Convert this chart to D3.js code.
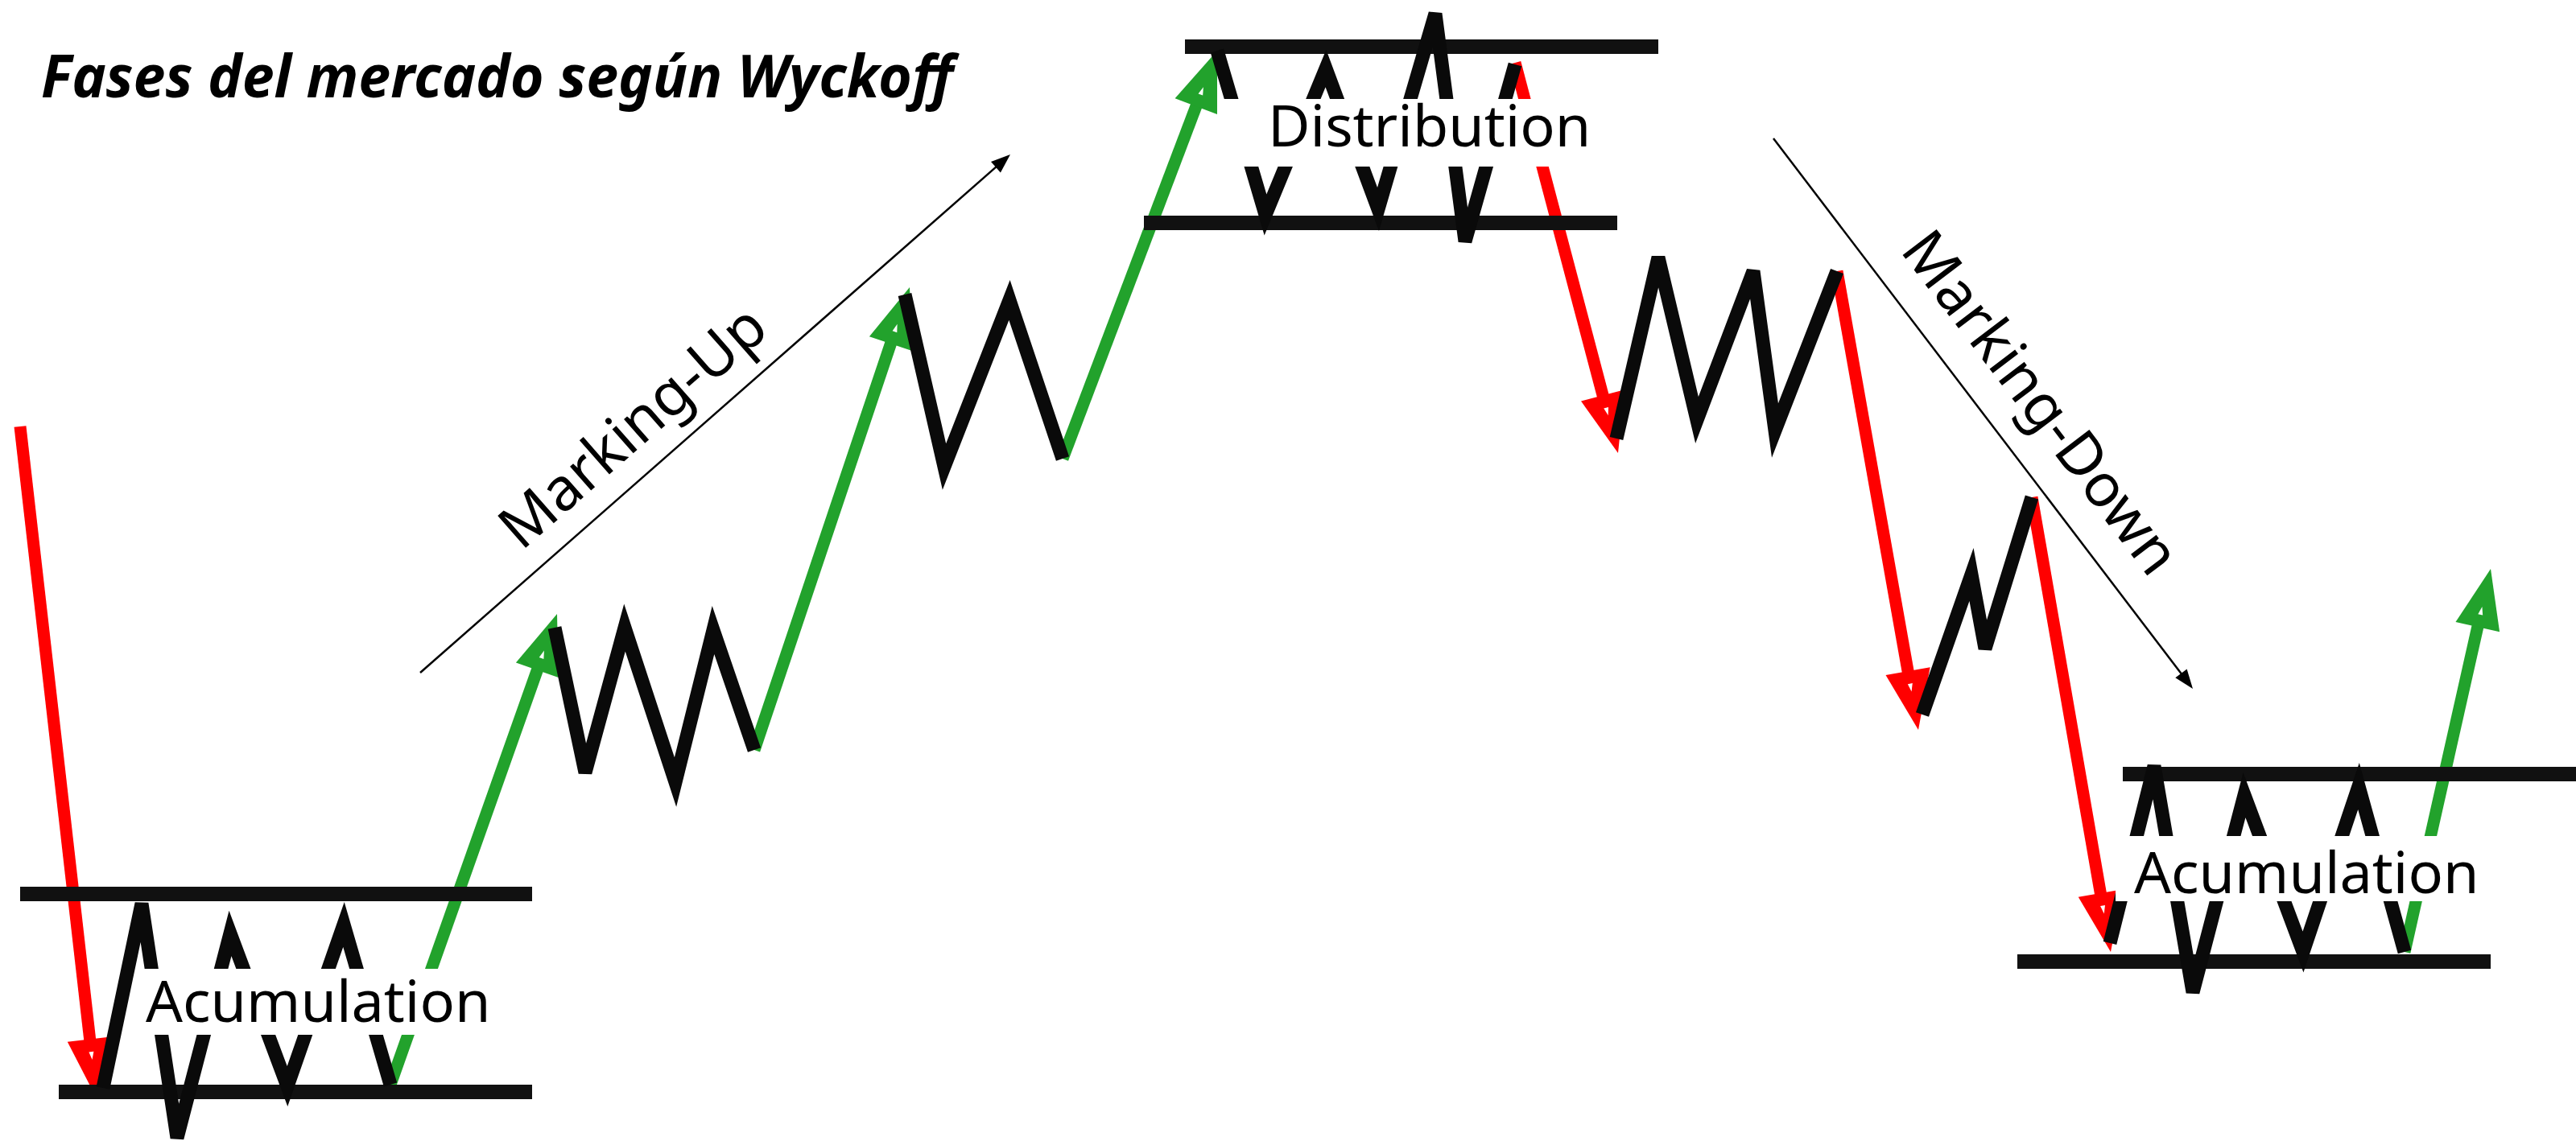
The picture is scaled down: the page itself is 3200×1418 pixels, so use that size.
<!DOCTYPE html>
<html>
<head>
<meta charset="utf-8">
<script src="https://cdn.jsdelivr.net/npm/d3@7"></script>
<style>
  body { margin: 0; background: #fff; }
  svg { display: block; }
</style>
</head>
<body>
<div id="vis"></div>
<script>
var W = 3200, H = 1418;

// x = time, y = price (same units as the sketch grid)
var redLegs = [
  [[25, 888], [120, 53]],
  [[1882, 1340], [2010, 855]],
  [[2282, 1081], [2383, 511]],
  [[2524, 800], [2622, 235]]
];
var greenLegs = [
  [[485, 70], [692, 655]],
  [[937, 486], [1130, 1061]],
  [[1320, 848], [1512, 1355]],
  [[2987, 235], [3094, 711]]
];
var ranges = [
  [[128, 66], [176, 295], [220, 4], [286, 258], [357, 68], [427, 269], [485, 70]],
  [[689, 638], [727, 458], [776, 638], [839, 446], [886, 635], [937, 486]],
  [[1124, 1052], [1173, 838], [1254, 1045], [1320, 848]],
  [[1512, 1355], [1572, 1151], [1647, 1333], [1712, 1158], [1783, 1401], [1820, 1118], [1882, 1338]],
  [[2008, 873], [2060, 1098], [2108, 896], [2178, 1081], [2205, 883], [2282, 1081]],
  [[2388, 530], [2449, 704], [2466, 612], [2524, 800]],
  [[2621, 246], [2676, 466], [2724, 185], [2788, 430], [2861, 235], [2930, 441], [2987, 235]]
];
// support / resistance: [from, to, price]
var levels = [
  [25, 661, 307], [73, 661, 61],
  [1472, 2060, 1360], [1421, 2009, 1141],
  [2637, 3200, 456], [2506, 3094, 223]
];
var phaseNames = ["Acumulation", "Distribution", "Acumulation"];
var phaseAt = [[181, 148], [1575, 1236], [2651, 308]];
var phaseMask = [[176, 616, 132, 214], [1518, 1975, 1211, 1295], [2628, 3090, 298, 379]];
var trendNames = ["Marking-Up", "Marking-Down"];
var trendLines = [
  [[522, 582], [1255, 1226]],
  [[2203, 1246], [2724, 562]]
];
var trendTextAt = [0.41, 0.538];
var trendTextOff = [30, 40];
var title = "Fases del mercado según Wyckoff";

var x = d3.scaleLinear().domain([0, 3200]).range([0, W]);
var y = d3.scaleLinear().domain([0, 1418]).range([H, 0]);
var px = function(d) { return [x(d[0]), y(d[1])]; };

var svg = d3.select('#vis').append('svg')
    .attr('width', W)
    .attr('height', H)
    .style('font-family', '"Noto Sans", sans-serif');

var line = d3.line().x(function(d) { return x(d[0]); }).y(function(d) { return y(d[1]); });

// arrow with a filled head at the end point
function arrow(g, leg, col, width, len, half, dot) {
  var a = px(leg[0]), b = px(leg[1]);
  var dx = b[0] - a[0], dy = b[1] - a[1], L = Math.hypot(dx, dy);
  var ux = dx / L, uy = dy / L;
  var e = [b[0] - ux * len * 0.5, b[1] - uy * len * 0.5];
  g.append('path')
    .attr('d', 'M' + a + 'L' + e)
    .attr('stroke', col)
    .attr('stroke-width', width)
    .attr('fill', 'none');
  var bx = b[0] - ux * len, by = b[1] - uy * len;
  var pts = [b, [bx - uy * half, by + ux * half], [bx + uy * half, by - ux * half]];
  g.append('path').attr('d', 'M' + pts.join('L') + 'Z').attr('fill', col);
  if (dot) {
    var cx = b[0] - ux * len * 0.72, cy = b[1] - uy * len * 0.72;
    var s = 5;
    g.append('path')
      .attr('d', 'M' + [cx + ux * s, cy + uy * s] + 'L' + [cx - ux * s - uy * s * 0.6, cy - uy * s + ux * s * 0.6] +
                 'L' + [cx - ux * s + uy * s * 0.6, cy - uy * s - ux * s * 0.6] + 'Z')
      .attr('fill', '#fff');
  }
}

var gLegs = svg.append('g');
redLegs.forEach(function(l) { arrow(gLegs, l, '#ff0000', 15, 74, 28, true); });
greenLegs.forEach(function(l) { arrow(gLegs, l, '#22a22c', 15, 74, 28, true); });

// horizontal levels
svg.append('g').selectAll('line')
    .data(levels)
    .enter().append('line')
    .attr('x1', function(d) { return x(d[0]); })
    .attr('x2', function(d) { return x(d[1]); })
    .attr('y1', function(d) { return y(d[2]); })
    .attr('y2', function(d) { return y(d[2]); })
    .attr('stroke', '#111')
    .attr('stroke-width', 18);

// black swings
svg.append('g').selectAll('path')
    .data(ranges)
    .enter().append('path')
    .attr('d', line)
    .attr('fill', 'none')
    .attr('stroke', '#0a0a0a')
    .attr('stroke-width', 17)
    .attr('stroke-linejoin', 'miter');

// phase labels on a white box
var gPh = svg.append('g');
gPh.selectAll('rect')
    .data(phaseMask)
    .enter().append('rect')
    .attr('x', function(d) { return x(d[0]); })
    .attr('width', function(d) { return x(d[1]) - x(d[0]); })
    .attr('y', function(d) { return y(d[3]); })
    .attr('height', function(d) { return y(d[2]) - y(d[3]); })
    .attr('fill', '#fff');
gPh.selectAll('text')
    .data(phaseNames)
    .enter().append('text')
    .attr('x', function(d, i) { return x(phaseAt[i][0]); })
    .attr('y', function(d, i) { return y(phaseAt[i][1]); })
    .attr('font-size', 72)
    .attr('fill', '#000')
    .text(function(d) { return d; });

// thin trend arrows + rotated names
var gTr = svg.append('g');
trendLines.forEach(function(l, i) {
  arrow(gTr, l, '#000', 2.5, 24, 9, false);
  var a = px(l[0]), b = px(l[1]);
  var dx = b[0] - a[0], dy = b[1] - a[1], L = Math.hypot(dx, dy);
  var ux = dx / L, uy = dy / L, off = trendTextOff[i];
  var t = trendTextAt[i] * L;
  var tx = a[0] + ux * t + uy * off, ty = a[1] + uy * t - ux * off;
  var ang = Math.atan2(dy, dx) * 180 / Math.PI;
  gTr.append('text')
    .attr('transform', 'translate(' + tx + ',' + ty + ') rotate(' + ang + ')')
    .attr('text-anchor', 'middle')
    .attr('font-size', 74)
    .attr('fill', '#000')
    .text(trendNames[i]);
});

svg.append('text')
    .attr('x', 51)
    .attr('y', 121)
    .attr('font-size', 73)
    .attr('font-weight', 'bold')
    .attr('font-style', 'italic')
    .attr('textLength', 1133)
    .attr('lengthAdjust', 'spacingAndGlyphs')
    .attr('fill', '#000')
    .text(title);
</script>
</body>
</html>
